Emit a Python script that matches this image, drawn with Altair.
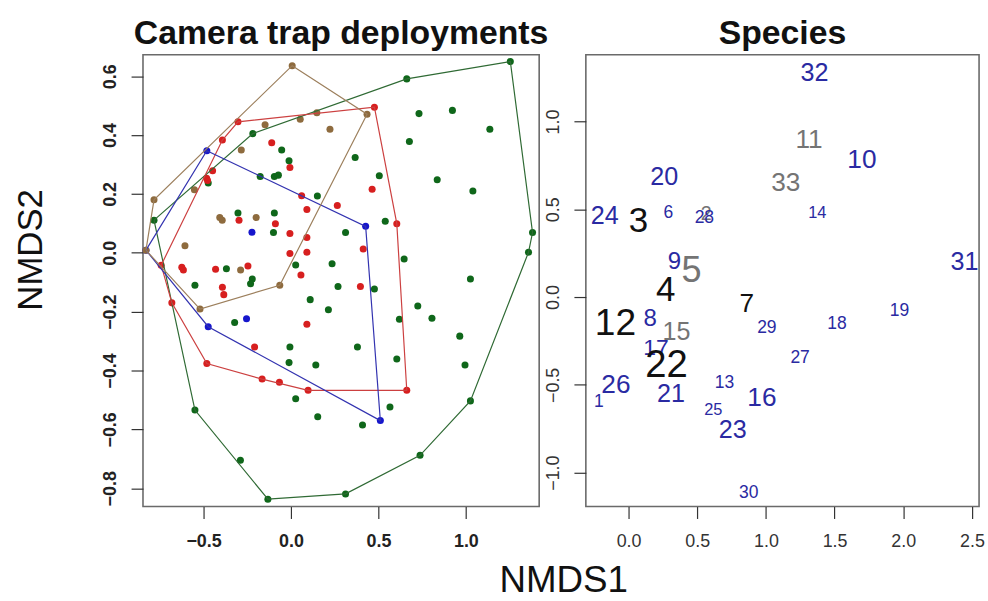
import altair as alt
import pandas as pd

FONT = "Liberation Sans"

# ---------------------------------------------------------------
# Site scores (NMDS1, NMDS2) of camera trap deployments, by group
# ---------------------------------------------------------------
green_x = [1.254, 0.662, 0.732, 0.923, 1.137, 0.677, -0.218, -0.053, -0.011, 0.367,
           -0.473, -0.176, -0.095, -0.072, 0.505, 0.836, 1.040, 0.151, -0.783, -0.303,
           -0.095, -0.100, 0.312, 0.539, 1.381, 1.358, 0.647, 1.026, 0.235, 0.027,
           -0.369, -0.221, -0.231, -0.549, 0.269, 0.477, 0.110, 0.214, 0.725, 0.620,
           0.806, 0.965, 0.995, -0.322, -0.006, 0.380, -0.011, 0.142, 0.605, 0.027,
           0.153, 0.409, 0.566, 1.026, 0.738, 0.312, -0.132, -0.289, -0.549]
green_y = [0.650, 0.591, 0.473, 0.484, 0.420, 0.378, 0.405, 0.349, 0.313, 0.324,
           0.237, 0.259, 0.259, 0.264, 0.262, 0.248, 0.210, 0.193, 0.111, 0.135,
           0.135, 0.069, 0.069, 0.107, 0.069, 0.002, -0.021, -0.089, -0.037, -0.041,
           -0.054, -0.089, -0.105, -0.110, -0.114, -0.123, -0.159, -0.193, -0.181, -0.226,
           -0.222, -0.283, -0.381, -0.237, -0.320, -0.320, -0.373, -0.381, -0.361, -0.496,
           -0.557, -0.585, -0.524, -0.503, -0.688, -0.819, -0.837, -0.705, -0.534]

red_x = [0.477, -0.303, -0.392, -0.110, -0.006, -0.448, -0.482, -0.477, 0.464, 0.061,
         0.265, 0.091, 0.605, -0.297, -0.089, -0.006, 0.091, 0.413, -0.006, 0.091,
         -0.742, -0.624, -0.615, -0.431, -0.246, 0.057, -0.392, -0.384, 0.397, -0.681,
         0.091, -0.208, -0.481, -0.165, -0.066, 0.098, 0.662]
red_y = [0.495, 0.445, 0.383, 0.374, 0.290, 0.279, 0.253, 0.246, 0.216, 0.194,
         0.161, 0.147, 0.099, 0.111, 0.099, 0.066, 0.052, 0.013, -0.002, 0.002,
         -0.042, -0.049, -0.058, -0.056, -0.045, -0.075, -0.117, -0.142, -0.114, -0.170,
         -0.243, -0.320, -0.376, -0.429, -0.440, -0.467, -0.467]

blue_x = [-0.481, 0.427, -0.223, -0.473, -0.254, 0.511, -0.829]
blue_y = [0.347, 0.090, 0.070, -0.251, -0.224, -0.570, 0.009]

brown_x = [0.007, 0.435, 0.148, 0.053, -0.148, 0.223, -0.284, -0.552, -0.783, -0.829,
           -0.407, -0.393, -0.199, -0.606, -0.288, -0.064, -0.520]
brown_y = [0.636, 0.471, 0.476, 0.454, 0.435, 0.420, 0.349, 0.214, 0.180, 0.009,
           0.120, 0.111, 0.120, 0.024, -0.058, -0.110, -0.191]

group_names = ["green", "red", "blue", "brown"]
group_colors = ["#0f671a", "#d71f1f", "#1616cc", "#8e6b3e"]
hull_colors = ["#2f6a34", "#cc4040", "#3333b0", "#9c7f5c"]

# ---------------------------------------------------------------
# Species scores: label, NMDS1, NMDS2, colour class, text cex
# ---------------------------------------------------------------
sp_label = [str(i) for i in range(1, 34)]
sp_x = [-0.217, 0.565, 0.072, 0.270, 0.458, 0.289, 0.860, 0.157, 0.333, 1.699,
        1.314, -0.096, 0.699, 1.374, 0.349, 0.971, 0.200, 1.518, 1.972, 0.260,
        0.309, 0.277, 0.759, -0.174, 0.617, -0.092, 1.249, 0.552, 1.007, 0.875,
        2.446, 1.354, 1.145]
sp_y = [-0.596, 0.470, 0.433, 0.037, 0.150, 0.480, -0.039, -0.124, 0.197, 0.783,
        0.896, -0.156, -0.488, 0.480, -0.199, -0.577, -0.288, -0.156, -0.080, 0.683,
        -0.552, -0.388, -0.760, 0.462, -0.643, -0.501, -0.345, 0.452, -0.175, -1.115,
        0.197, 1.274, 0.650]
sp_class = ["b", "g", "k", "k", "g", "b", "k", "b", "b", "b",
            "g", "k", "b", "b", "g", "b", "b", "b", "b", "b",
            "b", "k", "b", "b", "b", "b", "b", "b", "b", "b",
            "b", "b", "g"]
sp_cex = [0.80, 0.90, 1.60, 1.60, 1.65, 0.80, 1.20, 1.10, 1.10, 1.20,
          1.20, 1.70, 0.80, 0.75, 1.15, 1.20, 1.05, 0.80, 0.80, 1.15,
          1.15, 1.75, 1.15, 1.15, 0.75, 1.20, 0.80, 0.80, 0.80, 0.80,
          1.15, 1.15, 1.20]


def convex_hull(xs, ys):
    """Monotone-chain convex hull, returned as an ordered ring."""
    pts = sorted(set(zip(xs, ys)))

    def cross(o, a, b):
        return (a[0] - o[0]) * (b[1] - o[1]) - (a[1] - o[1]) * (b[0] - o[0])

    lower, upper = [], []
    for p in pts:
        while len(lower) >= 2 and cross(lower[-2], lower[-1], p) <= 0:
            lower.pop()
        lower.append(p)
    for p in reversed(pts):
        while len(upper) >= 2 and cross(upper[-2], upper[-1], p) <= 0:
            upper.pop()
        upper.append(p)
    return lower[:-1] + upper[:-1]


site_rows, hull_rows = [], []
coords = {"green": (green_x, green_y), "red": (red_x, red_y),
          "blue": (blue_x, blue_y), "brown": (brown_x, brown_y)}
for g in group_names:
    xs, ys = coords[g]
    for x, y in zip(xs, ys):
        site_rows.append({"x": x, "y": y, "grp": g})
    ring = convex_hull(xs, ys)
    ring = ring + ring[:1]
    for i, (x, y) in enumerate(ring):
        hull_rows.append({"x": x, "y": y, "grp": g, "k": i})

sites = pd.DataFrame(site_rows)
hulls = pd.DataFrame(hull_rows)
species = pd.DataFrame({"lab": sp_label, "x": sp_x, "y": sp_y,
                        "cls": sp_class, "cex": sp_cex})

# ---------------- left panel: deployments -----------------
left_axis = dict(labelFont=FONT, labelFontSize=18, labelFontWeight="bold",
                 labelColor="#222222", tickColor="#333333", tickSize=12,
                 tickWidth=1.2, domain=False, grid=False, format=".1f")

lx = alt.X("x:Q", scale=alt.Scale(domain=[-0.846, 1.419], nice=False, zero=False),
           axis=alt.Axis(values=[-0.5, 0.0, 0.5, 1.0], title=None,
                         labelPadding=14, **left_axis))
ly = alt.Y("y:Q", scale=alt.Scale(domain=[-0.862, 0.673], nice=False, zero=False),
           axis=alt.Axis(values=[-0.8, -0.6, -0.4, -0.2, 0.0, 0.2, 0.4, 0.6],
                         title="NMDS2", titleFont=FONT, titleFontSize=35,
                         titleFontWeight="normal", titleColor="#111111",
                         titlePadding=53, titleY=196, labelAngle=270, labelAlign="center",
                         labelBaseline="bottom", labelPadding=12, **left_axis))

site_color = alt.Color("grp:N", scale=alt.Scale(domain=group_names, range=group_colors),
                       legend=None)
hull_color = alt.Color("grp:N", scale=alt.Scale(domain=group_names, range=hull_colors),
                       legend=None)

pts = alt.Chart(sites).mark_circle(size=50, opacity=1).encode(x=lx, y=ly, color=site_color)
rings = alt.Chart(hulls).mark_line(strokeWidth=1.2).encode(
    x="x:Q", y="y:Q", color=hull_color, detail="grp:N", order="k:Q")

left = alt.layer(pts, rings).resolve_scale(color="independent").properties(
    width=399, height=455,
    title=alt.TitleParams("Camera trap deployments", font=FONT, fontSize=34,
                          fontWeight="bold", color="#111111", anchor="middle", offset=4))

# ---------------- right panel: species -----------------
right_axis = dict(labelFont=FONT, labelFontSize=18, labelFontWeight="normal",
                  labelColor="#333333", tickColor="#333333", tickSize=12,
                  tickWidth=1.2, domain=False, grid=False, format=".1f")

rx = alt.X("x:Q", scale=alt.Scale(domain=[-0.311, 2.552], nice=False, zero=False),
           axis=alt.Axis(values=[0.0, 0.5, 1.0, 1.5, 2.0, 2.5], title=None,
                         labelPadding=14, **right_axis))
ry = alt.Y("y:Q", scale=alt.Scale(domain=[-1.193, 1.380], nice=False, zero=False),
           axis=alt.Axis(values=[-1.0, -0.5, 0.0, 0.5, 1.0], title=None,
                         labelAngle=270, labelAlign="center", labelBaseline="bottom",
                         labelPadding=12, **right_axis))

right = alt.Chart(species).mark_text(font=FONT, align="center", baseline="middle").encode(
    x=rx, y=ry, text="lab:N",
    color=alt.Color("cls:N", scale=alt.Scale(domain=["k", "g", "b"],
                                             range=["#111111", "#747474", "#2a2aa2"]),
                    legend=None),
    size=alt.Size("cex:Q", scale=alt.Scale(domain=[0, 2], range=[0, 44]), legend=None),
).properties(
    width=396, height=455,
    title=alt.TitleParams("Species", font=FONT, fontSize=34, fontWeight="bold",
                          color="#111111", anchor="middle", offset=4))

chart = alt.hconcat(
    left, right, spacing=47, bounds="flush",
    title=alt.TitleParams("NMDS1", orient="bottom", anchor="middle", font=FONT,
                          fontSize=37, fontWeight="normal", color="#111111",
                          offset=12, dx=65),
).properties(
    padding={"left": 13, "top": 14, "right": 2, "bottom": 2},
    background="white",
).configure_view(stroke="#6a6a6a", strokeWidth=1.6)

chart.save("out.html", embed_options={"renderer": "svg", "actions": False})
